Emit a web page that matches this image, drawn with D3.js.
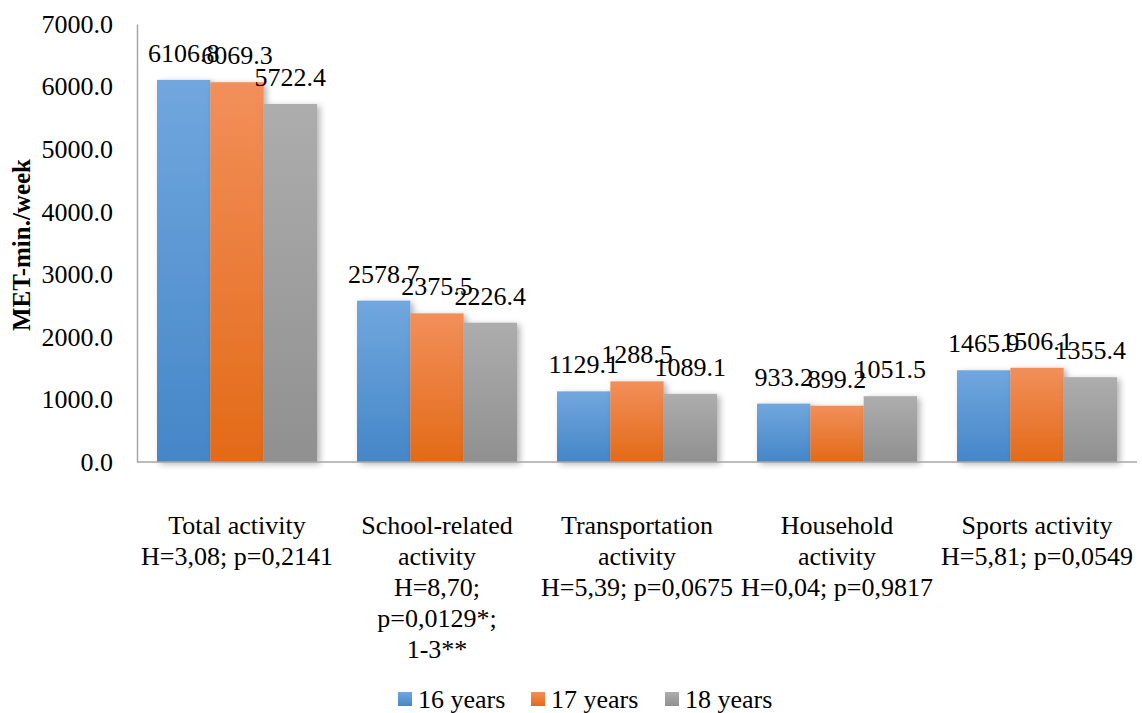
<!DOCTYPE html>
<html>
<head>
<meta charset="utf-8">
<script src="https://cdn.jsdelivr.net/npm/d3@7"></script>
<style>
  body { margin: 0; background: #fff; }
</style>
</head>
<body>
<div class="chart-container"></div>
<script>
////////////////////////////////// data

var categories = ["total", "school", "transport", "household", "sports"];
var categoryLines = [
    ["Total activity", "H=3,08; p=0,2141"],
    ["School-related", "activity", "H=8,70;", "p=0,0129*;", "1-3**"],
    ["Transportation", "activity", "H=5,39; p=0,0675"],
    ["Household", "activity", "H=0,04; p=0,9817"],
    ["Sports activity", "H=5,81; p=0,0549"]
];
var seriesNames = ["16 years", "17 years", "18 years"];
var values16 = [6106.8, 2578.7, 1129.1, 933.2, 1465.9];
var values17 = [6069.3, 2375.5, 1288.5, 899.2, 1506.1];
var values18 = [5722.4, 2226.4, 1089.1, 1051.5, 1355.4];
var yTicks = [0, 1000, 2000, 3000, 4000, 5000, 6000, 7000];

// gradient stops per series: top, bottom
var seriesColors = [
    ["#71a7de", "#4586c8"],
    ["#f28f5a", "#e36a17"],
    ["#adadad", "#909090"]
];

var FONT = "'Liberation Serif', Tinos, 'Times New Roman', 'DejaVu Serif', serif";

////////////////////////////////// setup

var width = 1142, height = 713;
var margin = {top: 24, right: 5, bottom: 251, left: 137};

var svg = d3.select(".chart-container").append("svg")
    .attr("width", width).attr("height", height)
    .style("font-family", FONT);

var defs = svg.append("defs");
seriesColors.forEach(function(c, i){
    var g = defs.append("linearGradient").attr("id", "grad" + i)
        .attr("x1", 0).attr("y1", 0).attr("x2", 0).attr("y2", 1);
    g.append("stop").attr("offset", "0%").attr("stop-color", c[0]);
    g.append("stop").attr("offset", "100%").attr("stop-color", c[1]);
});
var shadow = defs.append("filter").attr("id", "shadow")
    .attr("x", "-20%").attr("y", "-20%").attr("width", "150%").attr("height", "150%");
shadow.append("feDropShadow").attr("dx", 3).attr("dy", 2)
    .attr("stdDeviation", 3).attr("flood-color", "#000").attr("flood-opacity", 0.3);

var chart = svg.append("g").attr("transform", "translate(" + margin.left + "," + margin.top + ")");
var chart_width = width - margin.left - margin.right;
var chart_height = height - margin.top - margin.bottom;

var x0 = d3.scaleBand().domain(categories).range([0, chart_width]).paddingInner(0.2).paddingOuter(0.1);
var x1 = d3.scaleBand().domain(d3.range(seriesNames.length)).range([0, x0.bandwidth()]);
var y = d3.scaleLinear().domain([0, 7000]).range([chart_height, 0]);

var allValues = [values16, values17, values18];

////////////////////////////////// axes

var yAxis = chart.append("g").call(d3.axisLeft(y).tickValues(yTicks).tickSize(0).tickPadding(24)
    .tickFormat(function(d){ return d.toFixed(1); }));
yAxis.attr("font-family", null).attr("font-size", null);
yAxis.select(".domain").attr("stroke", "#a6a6a6").attr("stroke-width", 1.5);
yAxis.selectAll("text").style("font-size", "26px").style("font-family", FONT).attr("fill", "#000");

////////////////////////////////// bars

var groups = chart.selectAll(".group").data(categories).enter().append("g")
    .attr("class", "group")
    .attr("transform", function(d){ return "translate(" + x0(d) + ",0)"; });

groups.selectAll("rect").data(function(d, ci){
        return allValues.map(function(s, si){ return {s: si, v: s[ci]}; });
    }).enter().append("rect")
    .attr("x", function(d){ return x1(d.s); })
    .attr("y", function(d){ return y(d.v); })
    .attr("width", x1.bandwidth())
    .attr("height", function(d){ return chart_height - y(d.v); })
    .attr("fill", function(d){ return "url(#grad" + d.s + ")"; })
    .attr("filter", "url(#shadow)");

// x axis line drawn after bars
chart.append("line").attr("x1", 0).attr("x2", chart_width)
    .attr("y1", chart_height).attr("y2", chart_height)
    .attr("stroke", "#a6a6a6").attr("stroke-width", 1.5);

groups.selectAll(".label").data(function(d, ci){
        return allValues.map(function(s, si){ return {s: si, v: s[ci]}; });
    }).enter().append("text")
    .attr("class", "label")
    .attr("x", function(d){ return x1(d.s) + x1.bandwidth() / 2; })
    .attr("y", function(d){ return y(d.v) - 18; })
    .attr("text-anchor", "middle")
    .style("font-size", "26px").style("font-family", FONT)
    .text(function(d){ return d.v.toFixed(1); });

////////////////////////////////// category labels

categories.forEach(function(c, i){
    var t = chart.append("text")
        .attr("x", x0(c) + x0.bandwidth() / 2)
        .attr("y", chart_height + 72)
        .attr("text-anchor", "middle")
        .style("font-size", "26px").style("font-family", FONT);
    categoryLines[i].forEach(function(line, j){
        t.append("tspan").attr("x", x0(c) + x0.bandwidth() / 2)
            .attr("dy", j === 0 ? 0 : 31).text(line);
    });
});

////////////////////////////////// y title

svg.append("text")
    .attr("transform", "translate(30," + (margin.top + chart_height / 2 + 2) + ") rotate(-90)")
    .attr("text-anchor", "middle")
    .style("font-size", "25px").style("font-weight", "bold").style("font-family", FONT)
    .text("MET-min./week");

////////////////////////////////// legend

var legendX = [398, 531, 665];
var legend = svg.selectAll(".legend").data(seriesNames).enter().append("g")
    .attr("class", "legend")
    .attr("transform", function(d, i){ return "translate(" + legendX[i] + ",692)"; });
legend.append("rect").attr("width", 14).attr("height", 14)
    .attr("fill", function(d, i){ return "url(#grad" + i + ")"; });
legend.append("text").attr("x", 20).attr("y", 16)
    .style("font-size", "26px").style("font-family", FONT)
    .text(function(d){ return d; });
</script>
</body>
</html>
